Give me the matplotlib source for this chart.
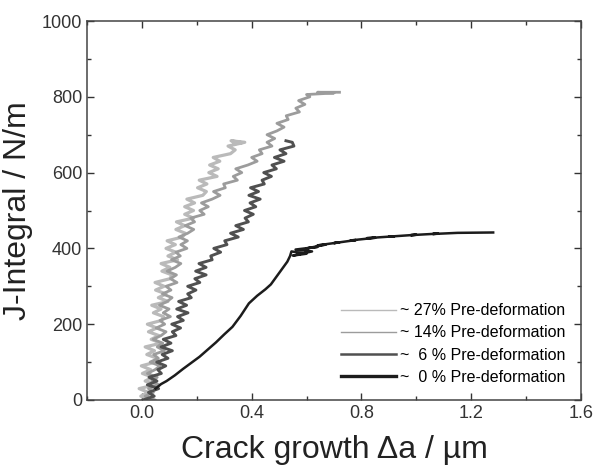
import matplotlib
matplotlib.use("Agg")
import matplotlib.pyplot as plt
from matplotlib.ticker import MultipleLocator

plt.rcParams["font.family"] = ["Liberation Sans", "DejaVu Sans"]

# ---------------------------------------------------------------------------
# Data: crack growth (um) vs J-integral (N/m)
# ---------------------------------------------------------------------------
# ~27 % pre-deformation
x27 = [0.034, -0.004, 0.024, -0.010, 0.048, 0.012, 0.040, 0.002, 0.032, -0.002,
       0.050, 0.056, 0.018, 0.046, 0.012, 0.070, 0.034, 0.062, 0.024, 0.054,
       0.020, 0.072, 0.079, 0.042, 0.070, 0.036, 0.095, 0.060, 0.088, 0.050,
       0.081, 0.048, 0.102, 0.110, 0.073, 0.102, 0.070, 0.130, 0.095, 0.124,
       0.088, 0.122, 0.092, 0.148, 0.158, 0.124, 0.156, 0.126, 0.188, 0.156,
       0.188, 0.156, 0.192, 0.164, 0.222, 0.235, 0.203, 0.237, 0.209, 0.274,
       0.244, 0.278, 0.247, 0.284, 0.260, 0.323, 0.340, 0.314, 0.375,
       0.325, 0.365, 0.335]
j27 = [0, 10, 20, 30, 40, 50, 60, 70, 80, 90,
       100, 110, 120, 130, 140, 150, 160, 170, 180, 190,
       200, 210, 220, 230, 240, 250, 260, 270, 280, 290,
       300, 310, 320, 330, 340, 350, 360, 370, 380, 390,
       400, 410, 420, 430, 440, 450, 460, 470, 480, 490,
       500, 510, 520, 530, 540, 550, 560, 570, 580, 590,
       600, 610, 620, 630, 640, 650, 660, 670, 680,
       684, 679, 676]

# ~14 % pre-deformation
x14 = [0.048, 0.012, 0.042, 0.024, 0.062, 0.036, 0.056, 0.020, 0.048, 0.066,
       0.030, 0.060, 0.043, 0.082, 0.056, 0.076, 0.041, 0.070, 0.088, 0.052,
       0.083, 0.066, 0.104, 0.078, 0.099, 0.064, 0.092, 0.110, 0.075, 0.106,
       0.088, 0.128, 0.104, 0.126, 0.092, 0.122, 0.142, 0.108, 0.140, 0.124,
       0.164, 0.142, 0.166, 0.135, 0.167, 0.189, 0.158, 0.192, 0.178, 0.227,
       0.211, 0.242, 0.217, 0.256, 0.285, 0.261, 0.304, 0.298, 0.348, 0.333,
       0.364, 0.342, 0.386, 0.420, 0.400, 0.438, 0.428, 0.474, 0.456, 0.484,
       0.456, 0.492, 0.518, 0.492, 0.533, 0.526, 0.574, 0.561, 0.594, 0.571,
       0.612, 0.600, 0.700, 0.640, 0.720]
j14 = [0, 10, 20, 30, 40, 50, 60, 70, 80, 90,
       100, 110, 120, 130, 140, 150, 160, 170, 180, 190,
       200, 210, 220, 230, 240, 250, 260, 270, 280, 290,
       300, 310, 320, 330, 340, 350, 360, 370, 380, 390,
       400, 410, 420, 430, 440, 450, 460, 470, 480, 490,
       500, 510, 520, 530, 540, 550, 560, 570, 580, 590,
       600, 610, 620, 630, 640, 650, 660, 670, 680, 690,
       700, 710, 720, 730, 740, 750, 760, 770, 780, 790,
       800, 806, 810, 812, 812]

# ~6 % pre-deformation
x6 = [0.004, 0.045, 0.024, 0.061, 0.020, 0.055, 0.026, 0.071, 0.058, 0.087,
      0.054, 0.095, 0.074, 0.111, 0.070, 0.106, 0.078, 0.124, 0.111, 0.141,
      0.109, 0.151, 0.130, 0.168, 0.127, 0.163, 0.134, 0.180, 0.167, 0.197,
      0.167, 0.211, 0.193, 0.234, 0.196, 0.234, 0.208, 0.256, 0.251, 0.287,
      0.262, 0.310, 0.302, 0.351, 0.323, 0.370, 0.342, 0.388, 0.376, 0.406,
      0.374, 0.415, 0.394, 0.431, 0.390, 0.425, 0.396, 0.446, 0.438, 0.472,
      0.444, 0.490, 0.474, 0.518, 0.483, 0.525, 0.503, 0.554, 0.548, 0.525]
j6 = [0, 10, 20, 30, 40, 50, 60, 70, 80, 90,
      100, 110, 120, 130, 140, 150, 160, 170, 180, 190,
      200, 210, 220, 230, 240, 250, 260, 270, 280, 290,
      300, 310, 320, 330, 340, 350, 360, 370, 380, 390,
      400, 410, 420, 430, 440, 450, 460, 470, 480, 490,
      500, 510, 520, 530, 540, 550, 560, 570, 580, 590,
      600, 610, 620, 630, 640, 650, 660, 670, 680, 684]

# ~0 % pre-deformation
x0 = [0.05, 0.07, 0.09, 0.12, 0.15, 0.18, 0.21, 0.24, 0.27, 0.30,
      0.33, 0.36, 0.39, 0.42, 0.45, 0.47, 0.49, 0.51, 0.53, 0.54,
      0.545, 0.60, 0.55, 0.62, 0.56, 0.64, 0.60, 0.67, 0.64,
      0.72, 0.70, 0.78, 0.76, 0.85, 0.82, 0.92, 0.90, 1.00, 0.98,
      1.08, 1.06, 1.15, 1.28]
j0 = [30, 42, 50, 65, 82, 98, 114, 133, 152, 173,
      193, 222, 255, 275, 292, 305, 325, 345, 365, 380,
      392, 386, 381, 392, 397, 404, 400, 410, 408,
      416, 414, 422, 421, 428, 427, 432, 431, 436, 435,
      439, 438, 441, 442]

labels = ["~ 27% Pre-deformation", "~ 14% Pre-deformation",
          "~  6 % Pre-deformation", "~  0 % Pre-deformation"]
colors = ["#bababa", "#9c9c9c", "#505050", "#1c1c1c"]

fig = plt.figure(figsize=(5.97, 4.67), dpi=100)
ax = fig.add_axes([0.1457, 0.1435, 0.8275, 0.8115])

ax.plot(x27, j27, color=colors[0], lw=2.3, label=labels[0])
ax.plot(x14, j14, color=colors[1], lw=2.0, label=labels[1])
ax.plot(x6, j6, color=colors[2], lw=2.1, label=labels[2])
ax.plot(x0, j0, color=colors[3], lw=1.8, label=labels[3])

ax.set_xlim(-0.2, 1.6)
ax.set_ylim(0, 1000)
ax.xaxis.set_major_locator(MultipleLocator(0.4))
ax.xaxis.set_minor_locator(MultipleLocator(0.2))
ax.yaxis.set_major_locator(MultipleLocator(200))
ax.yaxis.set_minor_locator(MultipleLocator(100))
ax.xaxis.set_major_formatter(plt.FuncFormatter(lambda v, p: f"{v:.1f}"))
ax.tick_params(which="both", direction="in", top=True, right=True,
               labelsize=13, colors="#333333", width=1)
ax.tick_params(which="major", length=5)
ax.tick_params(which="minor", length=3)
for s in ax.spines.values():
    s.set_color("#444444")
    s.set_linewidth(1.1)

ax.set_xlabel("Crack growth \u0394a / \u00b5m", fontsize=23, color="#222222",
              labelpad=9.5)
ax.set_ylabel("J-Integral / N/m", fontsize=23, color="#222222", labelpad=6)

leg = ax.legend(loc="lower right", frameon=False, fontsize=11.5,
                handlelength=3.4, handletextpad=0.3, labelspacing=0.45,
                bbox_to_anchor=(1.0, 0.0), borderaxespad=0.55)
for h, w in zip(leg.get_lines(), [1.0, 1.0, 1.8, 2.4]):
    h.set_linewidth(w)

fig.savefig("out.png", dpi=100)
